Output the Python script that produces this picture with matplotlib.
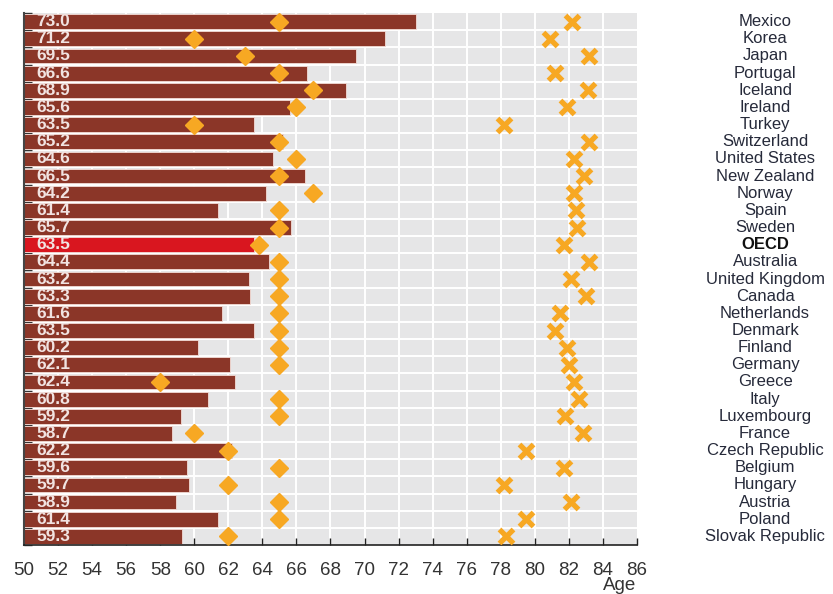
import matplotlib.pyplot as plt
import numpy as np

countries = ["Mexico", "Korea", "Japan", "Portugal", "Iceland", "Ireland", "Turkey",
             "Switzerland", "United States", "New Zealand", "Norway", "Spain", "Sweden",
             "OECD", "Australia", "United Kingdom", "Canada", "Netherlands", "Denmark",
             "Finland", "Germany", "Greece", "Italy", "Luxembourg", "France",
             "Czech Republic", "Belgium", "Hungary", "Austria", "Poland", "Slovak Republic"]
exit_age = [73.0, 71.2, 69.5, 66.6, 68.9, 65.6, 63.5, 65.2, 64.6, 66.5, 64.2, 61.4, 65.7,
            63.5, 64.4, 63.2, 63.3, 61.6, 63.5, 60.2, 62.1, 62.4, 60.8, 59.2, 58.7,
            62.2, 59.6, 59.7, 58.9, 61.4, 59.3]
pension_age = [65, 60, 63, 65, 67, 66, 60, 65, 66, 65, 67, 65, 65,
               63.8, 65, 65, 65, 65, 65, 65, 65, 58, 65, 65, 60,
               62, 65, 62, 65, 65, 62]
life_exp = [82.2, 80.9, 83.2, 81.2, 83.1, 81.9, 78.2, 83.2, 82.3, 82.9, 82.3, 82.4, 82.5,
            81.7, 83.2, 82.1, 83.0, 81.5, 81.2, 81.9, 82.0, 82.3, 82.6, 81.8, 82.8,
            79.5, 81.7, 78.2, 82.1, 79.5, 78.3]
xticks = list(range(50, 88, 2))

BAR = "#8b3628"
HIGHLIGHT = "#d9161f"
ORANGE = "#f7a823"
BG = "#e6e6e7"

plt.rcParams["font.family"] = ["Liberation Sans", "DejaVu Sans"]

fig = plt.figure(figsize=(8.33, 5.94), dpi=100)
ax = fig.add_axes([0.0288, 0.0825, 0.7359, 0.8955])
ax.set_facecolor(BG)

y = np.arange(len(countries))
base = 50
colors = [HIGHLIGHT if c == "OECD" else BAR for c in countries]
ax.barh(y, np.array(exit_age) - base, left=base, height=0.86, color=colors,
        edgecolor="#f3dcd6", linewidth=0.6, zorder=2)

ax.plot(pension_age, y, "D", color=ORANGE, ms=9, mec=ORANGE, zorder=4, linestyle="none")
ax.plot(life_exp, y, "x", color=ORANGE, ms=9.5, mew=3.8, zorder=4, linestyle="none")

for yi, v in zip(y, exit_age):
    ax.text(50.72, yi, f"{v:.1f}", ha="left", va="center", fontsize=12.5,
            fontweight="bold", color="#f1e3e1", zorder=5)

for yi, c in zip(y, countries):
    bold = c == "OECD"
    ax.text(1.209, yi, c, transform=ax.get_yaxis_transform(), ha="center", va="center",
            fontsize=12, fontweight="bold" if bold else "normal",
            color="#111111" if bold else "#262a3a", clip_on=False)

ax.set_xlim(50, 86)
ax.set_ylim(len(countries) - 0.5, -0.5)

# white grid: vertical every 2 years, horizontal between rows
for xv in xticks[1:-1]:
    ax.axvline(xv, color="white", lw=1.4, zorder=1)
for yb in np.arange(0.5, len(countries) - 0.5, 1):
    ax.axhline(yb, color="white", lw=1.4, zorder=1)

ax.set_xticks(xticks)
ax.tick_params(axis="x", direction="in", length=5, width=1, color="#222222",
               labelsize=13.5, labelcolor="#333333", pad=12)
ax.set_yticks(np.arange(-0.5, len(countries), 1))
ax.set_yticklabels([])
ax.tick_params(axis="y", direction="in", length=6, width=1, color="#333333")

for s in ["top", "right"]:
    ax.spines[s].set_visible(False)
ax.spines["left"].set_color("#444444")
ax.spines["left"].set_linewidth(1.5)
ax.spines["bottom"].set_color("#222222")
ax.spines["bottom"].set_linewidth(1.2)

fig.text(620 / 833, 1 - 586 / 594, "Age", ha="center", va="center", fontsize=13.5, color="#333333")

fig.savefig("out.png", dpi=100, facecolor="white")
